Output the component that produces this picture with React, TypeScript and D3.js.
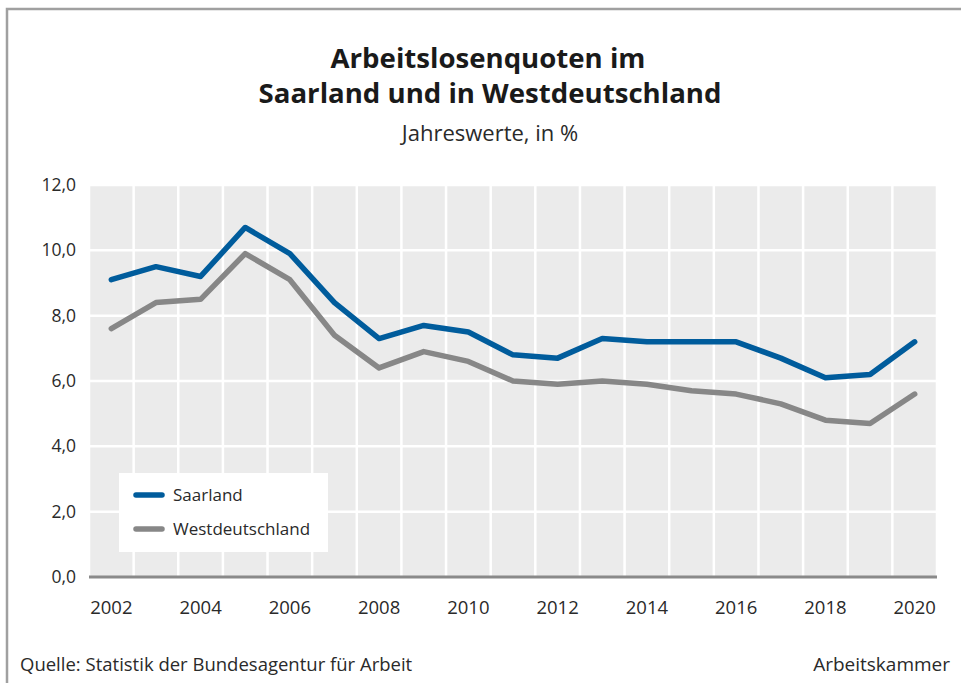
import React from "react";
import * as d3 from "d3";

const years = [2002, 2003, 2004, 2005, 2006, 2007, 2008, 2009, 2010, 2011, 2012, 2013, 2014, 2015, 2016, 2017, 2018, 2019, 2020];
const saarland = [9.1, 9.5, 9.2, 10.7, 9.9, 8.4, 7.3, 7.7, 7.5, 6.8, 6.7, 7.3, 7.2, 7.2, 7.2, 6.7, 6.1, 6.2, 7.2];
const westdeutschland = [7.6, 8.4, 8.5, 9.9, 9.1, 7.4, 6.4, 6.9, 6.6, 6.0, 5.9, 6.0, 5.9, 5.7, 5.6, 5.3, 4.8, 4.7, 5.6];
const yTicks = [0, 2, 4, 6, 8, 10, 12];
const xLabelYears = [2002, 2004, 2006, 2008, 2010, 2012, 2014, 2016, 2018, 2020];
const seriesNames = ["Saarland", "Westdeutschland"];
const seriesColors = ["#005c9c", "#878787"];

const W = 961;
const H = 683;
const FONT = "'Open Sans', 'Noto Sans', sans-serif";

export default function App() {
  const left = 89, right = 937, top = 185, bottom = 577;
  const x = d3.scaleBand<number>().domain(years).range([left, right]).padding(0);
  const y = d3.scaleLinear().domain([0, 12]).range([bottom, top]);
  const cx = (yr: number) => (x(yr) as number) + x.bandwidth() / 2;
  const line = d3.line<number>().x((_, i) => cx(years[i])).y((v) => y(v));
  const fmt = (v: number) => v.toFixed(1).replace(".", ",");
  const series = [saarland, westdeutschland];

  return (
    <svg width={W} height={H} style={{ position: "absolute", left: 0, top: 0, background: "#fff" }} fontFamily={FONT}>
      <path d={`M7,${H + 5} V9 H${W + 5}`} fill="none" stroke="#a0a0a0" strokeWidth={2.5} />
      <text x={488} y={68} textAnchor="middle" fontSize={27.6} fontWeight={700} fill="#1a1a1a">Arbeitslosenquoten im</text>
      <text x={490} y={103} textAnchor="middle" fontSize={27.6} fontWeight={700} fill="#1a1a1a">Saarland und in Westdeutschland</text>
      <text x={490} y={141} textAnchor="middle" fontSize={22} fill="#2a2a2a">Jahreswerte, in %</text>

      <rect x={left} y={top} width={right - left} height={bottom - top} fill="#ebebeb" />
      {years.map((yr, i) => (
        <line key={"v" + i} x1={x(yr) as number} x2={x(yr) as number} y1={top} y2={bottom} stroke="#fff" strokeWidth={2.5} />
      ))}
      <line x1={right} x2={right} y1={top} y2={bottom} stroke="#fff" strokeWidth={2.5} />
      {yTicks.filter((t) => t > 0).map((t) => (
        <line key={"h" + t} x1={left} x2={right} y1={y(t)} y2={y(t)} stroke="#fff" strokeWidth={2.5} />
      ))}
      <line x1={left} x2={right} y1={y(0)} y2={y(0)} stroke="#8a8a8a" strokeWidth={3} />

      {yTicks.map((t) => (
        <text key={"yl" + t} x={76} y={y(t) + 6} textAnchor="end" fontSize={17.5} fill="#2a2a2a">{fmt(t)}</text>
      ))}
      {xLabelYears.map((yr) => (
        <text key={"xl" + yr} x={cx(yr)} y={614} textAnchor="middle" fontSize={18.5} fill="#2a2a2a">{yr}</text>
      ))}

      {series.map((s, i) => (
        <path key={"s" + i} d={line(s) || ""} fill="none" stroke={seriesColors[i]} strokeWidth={5.5} strokeLinejoin="round" strokeLinecap="round" />
      ))}

      <rect x={119} y={473} width={209} height={79} fill="#fff" />
      {seriesNames.map((n, i) => (
        <g key={"lg" + i}>
          <line x1={136} x2={162} y1={495 + i * 34} y2={495 + i * 34} stroke={seriesColors[i]} strokeWidth={5.5} strokeLinecap="round" />
          <text x={173} y={501 + i * 34} fontSize={17} fill="#2a2a2a">{n}</text>
        </g>
      ))}

      <text x={20} y={671} fontSize={18.5} fill="#2a2a2a">Quelle: Statistik der Bundesagentur für Arbeit</text>
      <text x={950} y={671} textAnchor="end" fontSize={19} fill="#2a2a2a">Arbeitskammer</text>
    </svg>
  );
}
